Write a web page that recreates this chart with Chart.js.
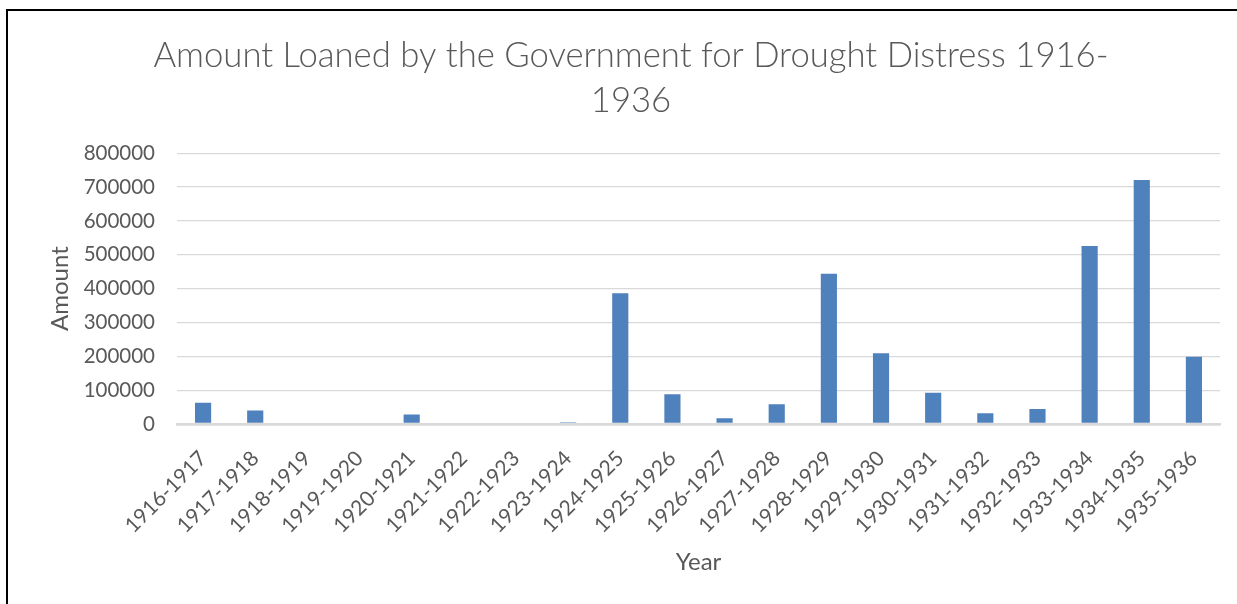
<!DOCTYPE html>
<html>
<head>
<meta charset="utf-8">
<script src="https://cdn.jsdelivr.net/npm/chart.js@4/dist/chart.umd.min.js"></script>
<style>
  html, body { margin: 0; padding: 0; background: #ffffff; overflow: hidden; width: 1237px; height: 604px; }
  #frame {
    position: absolute; left: 6px; top: 9px;
    width: 1240px; height: 600px;
    border-left: 2px solid #000; border-top: 2px solid #000;
    background: #fff;
  }
  #wrap { position: absolute; left: 0; top: 0; width: 1240px; height: 593px; }
</style>
</head>
<body>
<div id="frame"><div id="wrap"><canvas id="c"></canvas></div></div>
<script>
// Fiscal years covered by the loans
const years = [
  '1916-1917', '1917-1918', '1918-1919', '1919-1920', '1920-1921',
  '1921-1922', '1922-1923', '1923-1924', '1924-1925', '1925-1926',
  '1926-1927', '1927-1928', '1928-1929', '1929-1930', '1930-1931',
  '1931-1932', '1932-1933', '1933-1934', '1934-1935', '1935-1936'
];
// Amount loaned in each year
const amounts = [
  63000, 40000, 0, 0, 28000,
  0, 0, 5000, 386000, 88000,
  17000, 58000, 444000, 209000, 92000,
  32000, 44000, 526000, 721000, 199000
];
const titleLines = ['Amount Loaned by the Government for Drought Distress 1916-', '1936'];
const yMax = 800000;
const yStep = 100000;

const grey = '#595959';
const gridGrey = '#d9d9d9';
const FONT = 'Lato, "Noto Sans", sans-serif';

new Chart(document.getElementById('c'), {
  type: 'bar',
  data: {
    labels: years,
    datasets: [{
      label: 'Amount',
      data: amounts,
      backgroundColor: '#4f81bd',
      borderWidth: 0,
      categoryPercentage: 1,
      barPercentage: 0.31
    }]
  },
  options: {
    responsive: true,
    maintainAspectRatio: false,
    animation: false,
    devicePixelRatio: 1,
    layout: { padding: { left: 34, right: 28, top: 0, bottom: 23 } },
    plugins: {
      legend: { display: false },
      tooltip: { enabled: false },
      title: {
        display: true,
        text: titleLines,
        color: grey,
        font: { family: FONT, size: 34.7, weight: '300', lineHeight: 1.3 },
        padding: { top: 22, bottom: 30 }
      }
    },
    scales: {
      x: {
        grid: { display: false, drawTicks: false },
        border: { display: true, color: gridGrey, width: 2.5 },
        ticks: {
          color: grey,
          font: { family: FONT, size: 21 },
          minRotation: 45,
          maxRotation: 45,
          autoSkip: false,
          padding: 22
        },
        title: {
          display: true,
          text: 'Year',
          color: grey,
          font: { family: FONT, size: 24 },
          padding: { top: 4, bottom: 4 }
        },
        afterFit(scale) { scale.height = 157; }
      },
      y: {
        min: 0,
        max: yMax,
        grid: {
          color: gridGrey,
          lineWidth: ctx => (ctx.tick && ctx.tick.value === 0 ? 2.5 : 1.3),
          drawTicks: false
        },
        border: { display: false },
        ticks: {
          stepSize: yStep,
          color: grey,
          font: { family: FONT, size: 20.5 },
          padding: 22,
          callback: v => String(v)
        },
        title: {
          display: true,
          text: 'Amount',
          color: grey,
          font: { family: FONT, size: 24 },
          padding: { top: 4, bottom: 4 }
        },
        afterFit(scale) { scale.width = 135; }
      }
    }
  }
});
</script>
</body>
</html>
